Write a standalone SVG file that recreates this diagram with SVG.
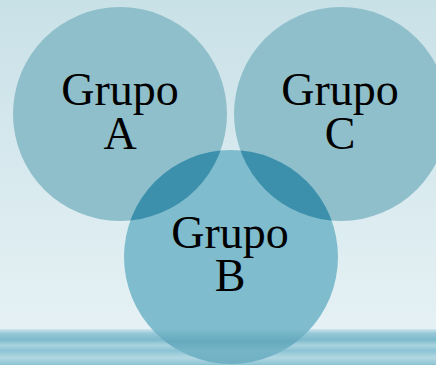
<svg xmlns="http://www.w3.org/2000/svg" width="436" height="365" viewBox="0 0 436 365">
  <defs>
    <linearGradient id="bg" x1="0" y1="0" x2="0" y2="1">
      <stop offset="0" stop-color="#c8e1e7"/>
      <stop offset="0.5" stop-color="#d9eaef"/>
      <stop offset="0.9" stop-color="#e5f1f4"/>
      <stop offset="1" stop-color="#e5f1f4"/>
    </linearGradient>
    <linearGradient id="water" x1="0" y1="0" x2="0" y2="1">
      <stop offset="0" stop-color="#cfe6ed"/>
      <stop offset="0.12" stop-color="#97c9d8"/>
      <stop offset="0.3" stop-color="#7dbacd"/>
      <stop offset="0.45" stop-color="#a9d3de"/>
      <stop offset="0.6" stop-color="#8cc3d4"/>
      <stop offset="0.8" stop-color="#b2d8e2"/>
      <stop offset="1" stop-color="#8cc4d5"/>
    </linearGradient>
    <linearGradient id="waterB" x1="0" y1="0" x2="0" y2="1">
      <stop offset="0" stop-color="#2f7f9c" stop-opacity="0"/>
      <stop offset="0.15" stop-color="#2f7f9c" stop-opacity="0.15"/>
      <stop offset="0.35" stop-color="#2f7f9c" stop-opacity="0.3"/>
      <stop offset="0.6" stop-color="#2f7f9c" stop-opacity="0.12"/>
      <stop offset="1" stop-color="#2f7f9c" stop-opacity="0.2"/>
    </linearGradient>
    <clipPath id="clipA"><circle cx="120" cy="114" r="107"/></clipPath>
    <clipPath id="clipC"><circle cx="341" cy="114" r="107"/></clipPath>
    <clipPath id="clipB"><circle cx="231" cy="257" r="107"/></clipPath>
  </defs>
  <style>
    .lbl { font-family: "Liberation Serif", "Times New Roman", serif; font-size: 46px; fill: #000; text-anchor: middle; }
    .circ { fill: #8fbfcb; }
    .circB { fill: #7fbccd; }
    .lens { fill: #3d90ac; }
  </style>
  <rect x="0" y="0" width="436" height="365" fill="url(#bg)"/>
  <rect x="0" y="329" width="436" height="36" fill="url(#water)"/>
  <g id="circleA">
    <circle class="circ" cx="120" cy="114" r="107"/>
  </g>
  <g id="circleC">
    <circle class="circ" cx="341" cy="114" r="107"/>
  </g>
  <g id="circleB">
    <circle class="circB" cx="231" cy="257" r="107"/>
    <rect x="124" y="329" width="214" height="36" fill="url(#waterB)" clip-path="url(#clipB)"/>
  </g>
  <g id="connectors">
    <circle class="lens" cx="231" cy="257" r="107" clip-path="url(#clipA)"/>
    <circle class="lens" cx="231" cy="257" r="107" clip-path="url(#clipC)"/>
  </g>
  <g id="labelA">
    <text class="lbl" x="120" y="105">Grupo</text>
    <text class="lbl" x="120" y="149">A</text>
  </g>
  <g id="labelC">
    <text class="lbl" x="340" y="105">Grupo</text>
    <text class="lbl" x="340" y="149">C</text>
  </g>
  <g id="labelB">
    <text class="lbl" x="230" y="248">Grupo</text>
    <text class="lbl" x="230" y="291">B</text>
  </g>
</svg>
